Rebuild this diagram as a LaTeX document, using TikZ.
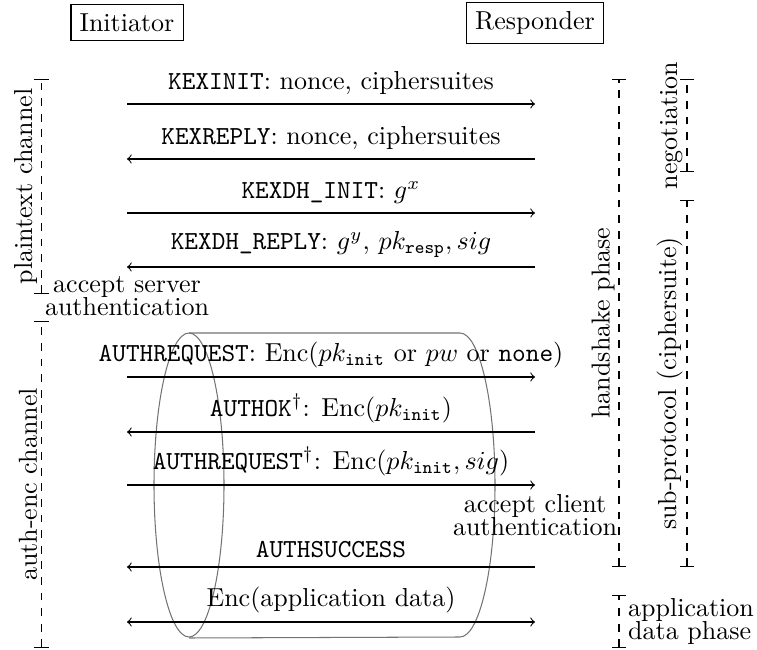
\documentclass[tikz,border=0pt]{standalone}
\usetikzlibrary{positioning}
\tikzset{
  actorbox/.style={draw=black, inner sep=3.33pt},
  msg/.style={->},
  msgboth/.style={<->},
  msglabel/.style={above},
  phasebar/.style={|-|, dashed},
  phaselabel/.style={sloped, above, inner sep=1.5pt},
  acceptnote/.style={below, align=center},
  tube/.style={draw=black!55, thin},
}

\begin{document}
\begin{tikzpicture}[x=0.3846pt, y=-0.3846pt]
  \useasboundingbox (0,0) rectangle (757,650);

  \node[actorbox] (init) at (127,22.5) {Initiator};
  \node[actorbox] (resp) at (535,23)   {Responder};

  % ends of the message arrows
  \foreach \i/\y in {1/104,2/159,3/213,4/267,5/377,6/432,7/485,8/567,9/622} {
    \coordinate (l\i) at (127,\y);
    \coordinate (r\i) at (535,\y);
  }

  % secure channel
  \draw[tube] (189,485) ellipse (35 and 152);
  \draw[tube] (189,333) -- (460,333)
    arc[start angle=-90, end angle=90, x radius=35, y radius=152] -- (189,638);

  \draw[msg] (l1) -- node[msglabel] {\texttt{KEXINIT}: nonce, ciphersuites} (r1);
  \draw[msg] (r2) -- node[msglabel] {\texttt{KEXREPLY}: nonce, ciphersuites} (l2);
  \draw[msg] (l3) -- node[msglabel] {\texttt{KEXDH\_INIT}: $g^x$} (r3);
  \draw[msg] (r4) -- node[msglabel] {\texttt{KEXDH\_REPLY}: $g^y$, $pk_{\mathtt{resp}}, sig$} (l4);
  \draw[msg] (l5) -- node[msglabel] {\texttt{AUTHREQUEST}: Enc($pk_{\mathtt{init}}$ or $pw$ or \texttt{none})} (r5);
  \draw[msg] (r6) -- node[msglabel] {\texttt{AUTHOK}$^\dagger$: Enc($pk_{\mathtt{init}}$)} (l6);
  \draw[msg] (l7) -- node[msglabel] {\texttt{AUTHREQUEST}$^\dagger$: Enc($pk_{\mathtt{init}}, sig$)} (r7);
  \draw[msg] (r8) -- node[msglabel] {\texttt{AUTHSUCCESS}} (l8);
  \draw[msgboth] (l9) -- node[msglabel] {Enc(application data)} (r9);

  \node[acceptnote] (srvok) at (l4) {accept server\\[-3pt]authentication};
  \node[acceptnote] (cliok) at (r7) {accept client\\[-3pt]authentication};

  % channels (left)
  \coordinate (pc0) at (41.5,294); \coordinate (pc1) at (41.5,79);
  \coordinate (ac0) at (41.5,648); \coordinate (ac1) at (41.5,321);
  \draw[phasebar] (pc0) -- node[phaselabel] {plaintext channel} (pc1);
  \draw[phasebar] (ac0) -- node[phaselabel] {auth-enc channel} (ac1);

  % phases (right)
  \coordinate (hs0) at (619,567); \coordinate (hs1) at (619,79);
  \coordinate (ng0) at (687,172); \coordinate (ng1) at (687,79);
  \coordinate (sp0) at (687,567); \coordinate (sp1) at (687,200);
  \coordinate (ad0) at (619,648); \coordinate (ad1) at (619,595);
  \draw[phasebar] (hs0) -- node[phaselabel] {handshake phase} (hs1);
  \draw[phasebar] (ng0) -- node[phaselabel] {negotiation} (ng1);
  \draw[phasebar] (sp0) -- node[phaselabel] {sub-protocol (ciphersuite)} (sp1);
  \draw[phasebar] (ad0) -- node[right, align=left] {application\\[-3pt]data phase} (ad1);

\end{tikzpicture}
\end{document}
